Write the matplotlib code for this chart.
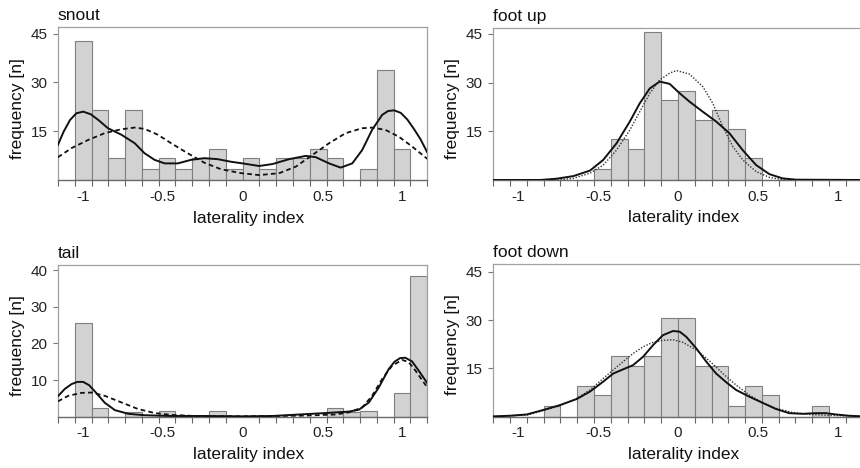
import numpy as np
import matplotlib
matplotlib.use("Agg")
import matplotlib.pyplot as plt

plt.rcParams['font.family'] = ['Liberation Sans', 'DejaVu Sans']

# bin grid (width 0.105) spanning the whole x range
bin_edges = np.round(np.linspace(-1.155, 1.155, 23), 4)
bin_centers = (bin_edges[:-1] + bin_edges[1:]) / 2

# histogram heights, one per bin
snout_counts = [0, 42.8, 21.6, 6.7, 21.6, 3.3, 6.7, 3.3, 6.7, 9.5, 3.3,
                6.7, 3.3, 6.7, 6.7, 9.5, 6.7, 0, 3.3, 33.9, 9.5, 0]
footup_counts = [0, 0, 0, 0, 0, 0, 3.3, 12.5, 9.4, 45.5, 24.6,
                 27.5, 18.5, 21.4, 15.7, 6.7, 0, 0, 0, 0, 0, 0]
tail_counts = [0, 25.5, 2.5, 0, 1.4, 0, 1.5, 0, 0, 1.5, 0,
               0, 0, 0, 0, 0, 2.5, 1.4, 1.5, 0, 6.6, 38.5]
footdown_counts = [0, 0, 0, 3.4, 0, 9.5, 6.7, 18.8, 15.7, 18.8, 30.5,
                   30.5, 15.7, 15.7, 3.4, 9.5, 6.7, 0, 0, 3.4, 0, 0]

# density curves
snout_kde_x = [-1.155, -1.12, -1.08, -1.04, -0.997, -0.95, -0.904, -0.842, -0.758,
               -0.675, -0.613, -0.551, -0.488, -0.405, -0.322, -0.239, -0.156, -0.072,
               0.0, 0.104, 0.187, 0.291, 0.395, 0.458, 0.541, 0.613, 0.686, 0.748,
               0.810, 0.873, 0.91, 0.948, 0.99, 1.03, 1.070, 1.112, 1.155]
snout_kde_y = [10.8, 14.8, 18.4, 20.5, 21.0, 20.2, 18.5, 15.9, 13.9,
               11.3, 8.2, 6.2, 5.1, 5.1, 6.2, 6.7, 6.4, 5.6,
               5.1, 4.3, 4.9, 6.4, 7.4, 7.0, 5.1, 3.8, 5.1, 9.2,
               15.4, 20.0, 21.2, 21.4, 20.6, 18.6, 15.8, 12.6, 8.5]
snout_fit_x = [-1.155, -1.07, -0.966, -0.862, -0.758, -0.675, -0.613, -0.530, -0.447,
               -0.343, -0.239, -0.135, -0.010, 0.104, 0.229, 0.333, 0.437, 0.541,
               0.645, 0.748, 0.810, 0.893, 0.977, 1.060, 1.155]
snout_fit_y = [7.0, 9.8, 12.3, 14.4, 15.6, 16.1, 15.7, 13.9, 11.3,
               8.2, 5.3, 3.3, 2.1, 1.5, 2.1, 4.1, 7.7, 11.3,
               14.4, 15.9, 16.1, 15.4, 13.3, 10.3, 6.5]

tail_kde_x = [-1.155, -1.112, -1.07, -1.035, -0.997, -0.96, -0.924, -0.862, -0.799,
              -0.716, -0.613, -0.446, -0.239, 0.0, 0.187, 0.395, 0.520, 0.665, 0.727,
              0.790, 0.852, 0.914, 0.95, 0.985, 1.018, 1.060, 1.101, 1.155]
tail_kde_y = [5.6, 7.6, 8.9, 9.5, 9.5, 8.6, 6.9, 3.8, 1.8,
              0.8, 0.4, 0.2, 0.2, 0.1, 0.2, 0.7, 1.0, 1.4, 1.9,
              3.9, 8.0, 13.0, 15.0, 16.0, 16.1, 15.1, 12.6, 9.2]
tail_fit_x = [-1.155, -1.091, -1.008, -0.945, -0.862, -0.758, -0.654, -0.550, -0.446,
              -0.301, 0.0, 0.395, 0.581, 0.665, 0.748, 0.810, 0.873, 0.935, 0.998,
              1.039, 1.081, 1.155]
tail_fit_y = [4.2, 5.7, 6.5, 6.6, 5.7, 3.9, 2.1, 1.0, 0.5,
              0.2, 0.1, 0.3, 0.6, 1.2, 2.5, 5.7, 10.3, 13.9, 15.5,
              14.9, 12.6, 8.0]

footup_kde_x = [-1.155, -0.862, -0.758, -0.654, -0.550, -0.467, -0.384, -0.301, -0.239,
                -0.176, -0.114, -0.052, 0.011, 0.073, 0.156, 0.239, 0.322, 0.405,
                0.489, 0.572, 0.655, 0.738, 1.155]
footup_kde_y = [0, 0, 0.4, 1.2, 2.9, 6.2, 11.3, 18.0, 23.6,
                28.2, 30.3, 29.6, 26.7, 24.1, 21.0, 18.0, 14.4, 9.2,
                4.6, 1.8, 0.5, 0.1, 0]
footup_fit_x = [-1.155, -0.75, -0.654, -0.550, -0.467, -0.384, -0.301, -0.239, -0.176,
                -0.114, -0.052, -0.010, 0.073, 0.156, 0.218, 0.281, 0.343, 0.405,
                0.489, 0.572, 0.655, 0.75, 1.155]
footup_fit_y = [0, 0, 0.5, 2.1, 4.6, 9.2, 15.4, 21.0, 26.7,
                30.8, 32.9, 33.7, 32.6, 28.7, 23.6, 16.4, 10.3, 6.2,
                2.6, 0.8, 0.1, 0, 0]

footdown_kde_x = [-1.155, -1.049, -0.945, -0.842, -0.738, -0.633, -0.550, -0.467, -0.405,
                  -0.343, -0.281, -0.218, -0.156, -0.094, -0.031, 0.011, 0.052, 0.115,
                  0.177, 0.239, 0.302, 0.364, 0.447, 0.530, 0.613, 0.696, 0.779, 0.863,
                  0.925, 0.988, 1.070, 1.155]
footdown_kde_y = [0.1, 0.3, 0.7, 2.1, 3.6, 5.5, 7.8, 10.9, 13.4,
                  14.7, 16.0, 18.6, 22.2, 25.3, 26.6, 26.4, 24.8, 21.2,
                  17.1, 13.4, 10.7, 8.3, 6.2, 4.3, 2.4, 1.1, 0.9, 1.1,
                  1.1, 0.7, 0.3, 0.1]
footdown_fit_x = [-1.155, -1.049, -0.945, -0.842, -0.738, -0.633, -0.550, -0.467, -0.405,
                  -0.343, -0.281, -0.218, -0.156, -0.094, -0.031, 0.031, 0.115, 0.198,
                  0.281, 0.364, 0.447, 0.530, 0.613, 0.717, 0.821, 0.946, 1.155]
footdown_fit_y = [0.1, 0.3, 0.5, 1.9, 3.4, 5.7, 8.3, 11.9, 14.5,
                  17.1, 19.6, 21.7, 23.1, 23.7, 23.9, 23.1, 20.7, 17.3,
                  13.4, 9.8, 6.7, 4.3, 2.6, 1.3, 0.7, 0.4, 0.1]

panels = [
    ("snout", snout_counts, snout_kde_x, snout_kde_y, snout_fit_x, snout_fit_y,
     "dashed", [15, 30, 45], 47.0, [0.0674, 0.6154, 0.4294, 0.3269]),
    ("foot up", footup_counts, footup_kde_x, footup_kde_y, footup_fit_x, footup_fit_y,
     "dotted", [15, 30, 45], 46.8, [0.5736, 0.6154, 0.4294, 0.3248]),
    ("tail", tail_counts, tail_kde_x, tail_kde_y, tail_fit_x, tail_fit_y,
     "dashed", [10, 20, 30, 40], 41.5, [0.0674, 0.1096, 0.4294, 0.3248]),
    ("foot down", footdown_counts, footdown_kde_x, footdown_kde_y, footdown_fit_x,
     footdown_fit_y, "dotted", [15, 30, 45], 47.4, [0.5736, 0.1096, 0.4294, 0.3263]),
]

fig = plt.figure(figsize=(8.6, 4.68), dpi=100)

for title, counts, kx, ky, fx, fy, fstyle, yticks, ytop, pos in panels:
    ax = fig.add_axes(pos)
    counts = np.array(counts)
    keep = counts > 0
    ax.bar(bin_centers[keep], counts[keep], width=0.105, color='#d2d2d2',
           edgecolor='#7f7f7f', linewidth=0.8, zorder=2)
    ax.plot(kx, ky, color='#111111', lw=1.4, zorder=4)
    if fstyle == "dashed":
        ax.plot(fx, fy, color='#111111', lw=1.3, dashes=(2.6, 1.8), zorder=3)
    else:
        ax.plot(fx, fy, color='#333333', lw=1.0, dashes=(1, 1.2), zorder=3)

    ax.set_xlim(-1.155, 1.155)
    ax.set_ylim(0, ytop)
    ax.set_xticks([-1, -0.5, 0, 0.5, 1])
    ax.set_xticklabels(['-1', '-0.5', '0', '0.5', '1'])
    ax.set_xticks(bin_edges, minor=True)
    ax.tick_params(axis='x', which='major', length=0, pad=7, labelsize=11,
                   labelcolor='#222222')
    ax.tick_params(axis='x', which='minor', length=4, width=0.8, color='#666666')
    ax.set_yticks(yticks)
    ax.tick_params(axis='y', length=3.5, width=0.8, color='#777777', pad=4,
                   labelsize=11, labelcolor='#222222')

    for side in ['top', 'left', 'right']:
        ax.spines[side].set_color('#a0a0a0')
        ax.spines[side].set_linewidth(0.9)
    ax.spines['bottom'].set_color('#6a6a6a')
    ax.spines['bottom'].set_linewidth(1.0)

    ax.set_title(title, loc='left', fontsize=12.5, pad=5, color='#111111')
    ax.set_xlabel('laterality index', fontsize=12.5, color='#111111')
    ax.xaxis.set_label_coords(0.515, -0.2)
    ax.set_ylabel('frequency [n]', fontsize=12.5, color='#111111')
    ax.yaxis.set_label_coords(-0.09, 0.47)

fig.savefig('out.png', dpi=100)
